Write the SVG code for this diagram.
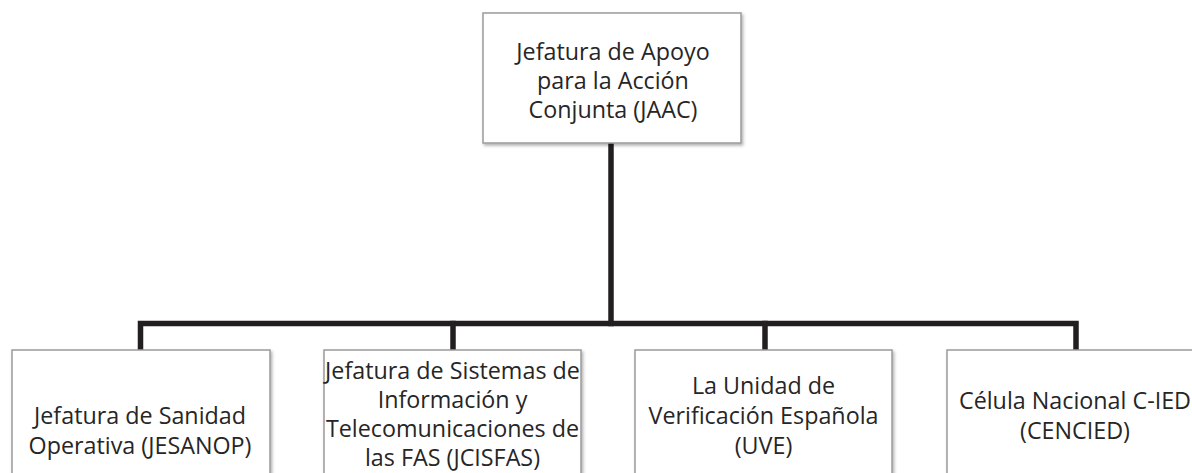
<svg xmlns="http://www.w3.org/2000/svg" width="1192" height="473" viewBox="0 0 1192 473">
<defs>
<filter id="sh" x="-10%" y="-10%" width="130%" height="130%">
<feDropShadow dx="1.5" dy="2" stdDeviation="1.5" flood-color="#000" flood-opacity="0.3"/>
</filter>
<style>
.box{fill:#fff;stroke:#9a9a9a;stroke-width:1.5;filter:url(#sh)}
.t{font-family:"Open Sans","Liberation Sans",sans-serif;font-size:23.3px;fill:#262626;text-anchor:middle}
.c{fill:none;stroke:#231f20;stroke-width:5.5;stroke-linecap:square;stroke-linejoin:miter}
</style>
</defs>
<rect width="1192" height="473" fill="#fff"/>
<g id="connectors">
<path class="c" d="M611,145 V323.5"/>
<path class="c" d="M140.5,348 V323.5 H1076 V348"/>
<path class="c" d="M453,323.5 V348"/>
<path class="c" d="M765,323.5 V348"/>
</g>
<g id="jaac">
<rect class="box" x="483" y="13" width="258" height="130"/>
<text class="t" x="613" y="60">Jefatura de Apoyo</text>
<text class="t" x="613" y="89">para la Acción</text>
<text class="t" x="613" y="118">Conjunta (JAAC)</text>
</g>
<g id="jesanop">
<rect class="box" x="12" y="350" width="258" height="140"/>
<text class="t" x="140" y="424">Jefatura de Sanidad</text>
<text class="t" x="140" y="454">Operativa (JESANOP)</text>
</g>
<g id="jcisfas">
<rect class="box" x="324" y="350" width="257" height="140"/>
<text class="t" x="452.5" y="379">Jefatura de Sistemas de</text>
<text class="t" x="452.5" y="408">Información y</text>
<text class="t" x="452.5" y="437">Telecomunicaciones de</text>
<text class="t" x="452.5" y="466">las FAS (JCISFAS)</text>
</g>
<g id="uve">
<rect class="box" x="635" y="350" width="257" height="140"/>
<text class="t" x="763.5" y="394">La Unidad de</text>
<text class="t" x="763.5" y="424">Verificación Española</text>
<text class="t" x="763.5" y="454">(UVE)</text>
</g>
<g id="cencied">
<rect class="box" x="947" y="350" width="257" height="140"/>
<text class="t" x="1075" y="409">Célula Nacional C-IED</text>
<text class="t" x="1075" y="439">(CENCIED)</text>
</g>
</svg>
